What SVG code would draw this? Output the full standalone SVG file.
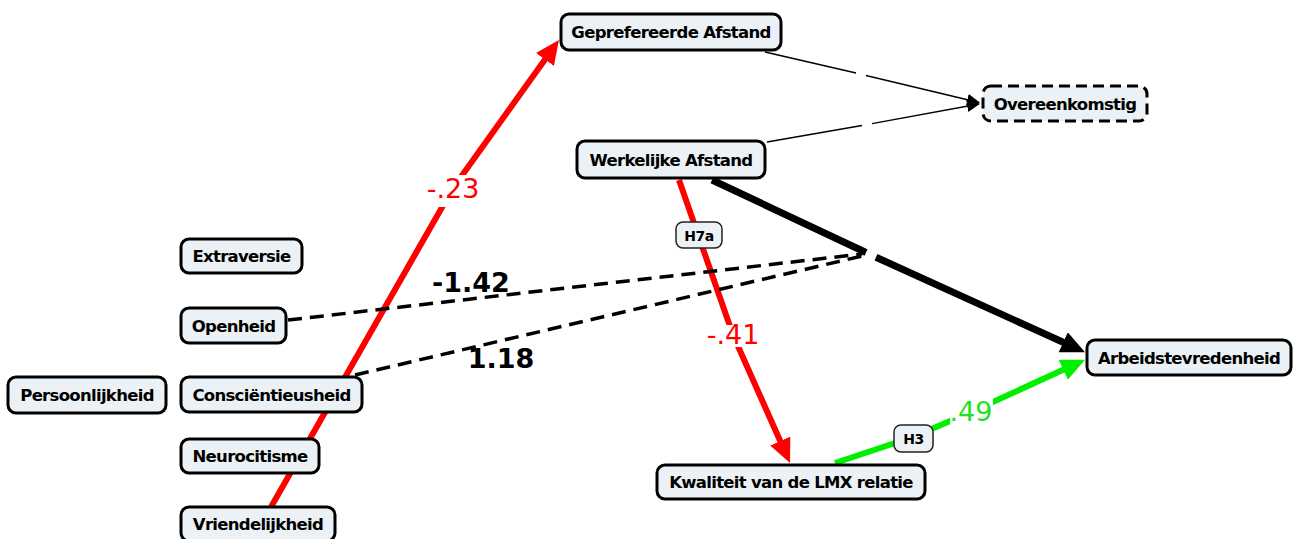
<svg xmlns="http://www.w3.org/2000/svg" width="1293" height="539" viewBox="0 0 1293 539">
<style>
.node rect{fill:#ebf1f4;stroke:#000;stroke-width:3}
.node text{font-family:"DejaVu Sans",Verdana,sans-serif;font-weight:bold;font-size:16.5px;letter-spacing:-0.7px;fill:#000;text-anchor:middle}
.tag rect{fill:#ebf1f4;stroke:#222;stroke-width:1.5}
.tag text{font-family:"DejaVu Sans",Verdana,sans-serif;font-weight:bold;font-size:14px;letter-spacing:-0.4px;fill:#000;text-anchor:middle}
.lbl{font-family:"DejaVu Sans",Verdana,sans-serif;font-size:27px;text-anchor:middle}
.blbl{font-family:"DejaVu Sans",Verdana,sans-serif;font-size:27px;font-weight:bold;text-anchor:middle;fill:#000}
.thin{fill:none;stroke:#000;stroke-width:1.3}
.dash{fill:none;stroke:#000;stroke-width:3.5;stroke-dasharray:14 8}
</style>
<defs>
<marker id="aRed" markerUnits="userSpaceOnUse" markerWidth="24" markerHeight="24" refX="9" refY="11" orient="auto"><path d="M0,0 L24,11 L0,22 z" fill="#ff0000"/></marker>
<marker id="aBlack" markerUnits="userSpaceOnUse" markerWidth="24" markerHeight="24" refX="9" refY="11" orient="auto"><path d="M0,0 L24,11 L0,22 z" fill="#000"/></marker>
<marker id="aGreen" markerUnits="userSpaceOnUse" markerWidth="24" markerHeight="24" refX="9" refY="11" orient="auto"><path d="M0,0 L24,11 L0,22 z" fill="#00f000"/></marker>
<marker id="aThin" markerUnits="userSpaceOnUse" markerWidth="14" markerHeight="14" refX="12" refY="6" orient="auto"><path d="M0,0 L13,6 L0,12 z" fill="#000"/></marker>
</defs>
<rect width="1293" height="539" fill="#fff"/>
<g id="connectors">
<path class="thin" d="M765,52 L856,73"/>
<path class="thin" d="M866,75.5 L979,102.5" marker-end="url(#aThin)"/>
<path class="thin" d="M767,142 L862,125.5"/>
<path class="thin" d="M872,123.7 L979,104" marker-end="url(#aThin)"/>
<path d="M271,507 L453,188 L550.2,52.2" fill="none" stroke="#ff0000" stroke-width="6" marker-end="url(#aRed)"/>
<path d="M679,180 L733,335 L783.9,449.3" fill="none" stroke="#ff0000" stroke-width="6" marker-end="url(#aRed)"/>
<path d="M712,180 L866,252.5" fill="none" stroke="#000" stroke-width="7"/>
<path d="M876,257.3 L1071.4,346" fill="none" stroke="#000" stroke-width="7" marker-end="url(#aBlack)"/>
<path d="M835,463 L913,437 L971,412 L1071.4,366" fill="none" stroke="#00f000" stroke-width="6" marker-end="url(#aGreen)"/>
<path class="dash" d="M288,320 L862,254"/>
<path class="dash" d="M355,375 L862,256"/>
<rect x="424" y="175" width="58" height="32" fill="#fff"/>
<text class="lbl" x="453" y="198" fill="#ff0000">-.23</text>
<rect x="705" y="325" width="57" height="22" fill="#fff"/>
<text class="lbl" x="733" y="344" fill="#ff0000">-.41</text>
<rect x="950" y="398" width="43" height="26" fill="#fff"/>
<text class="lbl" x="971" y="421" fill="#22e022">.49</text>
<text class="blbl" x="471" y="292">-1.42</text>
<text class="blbl" x="501" y="368">1.18</text>
<g id="tag-h7a" class="tag"><rect x="676" y="222" width="46" height="26" rx="7"/><text x="699" y="240.5">H7a</text></g>
<g id="tag-h3" class="tag"><rect x="894" y="425" width="39" height="27" rx="7"/><text x="913.5" y="443.5">H3</text></g>
</g>
<g id="n-geprefereerde" class="node"><rect x="561" y="14" width="220" height="36" rx="8"/><text x="671" y="38">Geprefereerde Afstand</text></g>
<g id="n-overeenkomstig" class="node"><rect x="983" y="86" width="164" height="35" rx="8" stroke-dasharray="11 6"/><text x="1065" y="109.5">Overeenkomstig</text></g>
<g id="n-werkelijke" class="node"><rect x="577" y="141" width="188" height="37" rx="8"/><text x="671" y="165.5">Werkelijke Afstand</text></g>
<g id="n-extraversie" class="node"><rect x="181" y="239" width="121" height="34" rx="8"/><text x="241.5" y="262">Extraversie</text></g>
<g id="n-openheid" class="node"><rect x="181" y="308" width="105" height="35" rx="8"/><text x="233.5" y="331.5">Openheid</text></g>
<g id="n-persoonlijkheid" class="node"><rect x="8" y="377" width="158" height="36" rx="8"/><text x="87" y="401">Persoonlijkheid</text></g>
<g id="n-conscientieusheid" class="node"><rect x="181" y="377" width="181" height="35" rx="8"/><text x="271.5" y="400.5">Consciëntieusheid</text></g>
<g id="n-neurocitisme" class="node"><rect x="181" y="439" width="138" height="34" rx="8"/><text x="250" y="462">Neurocitisme</text></g>
<g id="n-vriendelijkheid" class="node"><rect x="181" y="507" width="154" height="34" rx="8"/><text x="258" y="530">Vriendelijkheid</text></g>
<g id="n-kwaliteit" class="node"><rect x="657" y="465" width="268" height="34" rx="8"/><text x="791" y="488">Kwaliteit van de LMX relatie</text></g>
<g id="n-arbeidstevredenheid" class="node"><rect x="1087" y="340" width="204" height="35" rx="8"/><text x="1189" y="363.5">Arbeidstevredenheid</text></g>
</svg>
